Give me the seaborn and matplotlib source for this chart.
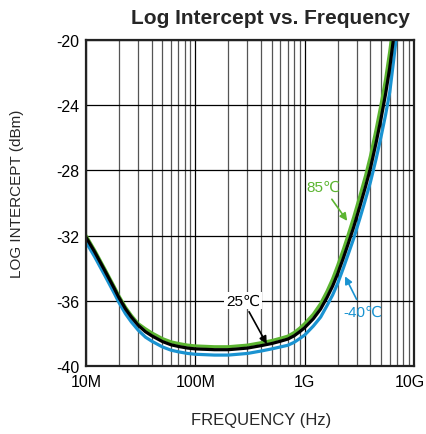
import numpy as np
import pandas as pd
import seaborn as sns
import matplotlib.pyplot as plt
import matplotlib.transforms as mtransforms
from matplotlib.ticker import FixedLocator, LogLocator, NullFormatter

# Données
freq_hz = [10e6, 12e6, 15e6, 18e6, 20e6, 23e6, 26e6, 30e6, 35e6, 40e6, 50e6, 60e6, 70e6,
           85e6, 100e6, 150e6, 200e6, 300e6, 400e6, 500e6, 600e6, 700e6, 800e6, 900e6,
           1e9, 1.2e9, 1.4e9, 1.6e9, 1.8e9, 2e9, 2.25e9, 2.5e9, 2.8e9, 3.2e9, 3.6e9,
           4e9, 4.5e9, 5e9, 5.5e9, 6e9, 6.5e9, 7e9]
temp_25 = [-32.1, -33.0, -34.2, -35.2, -35.8, -36.5, -37.0, -37.5, -37.9, -38.15, -38.5, -38.7, -38.8,
           -38.9, -38.95, -39.0, -39.0, -38.9, -38.75, -38.62, -38.48, -38.35, -38.15, -37.9,
           -37.65, -37.1, -36.5, -35.8, -35.1, -34.35, -33.4, -32.5, -31.5, -30.2, -29.0,
           -27.85, -26.3, -24.8, -23.3, -21.7, -19.9, -18.3]
temp_85 = [-32.0, -32.9, -34.1, -35.1, -35.7, -36.4, -36.9, -37.4, -37.72, -37.97, -38.32, -38.52, -38.62,
           -38.72, -38.77, -38.82, -38.82, -38.72, -38.57, -38.44, -38.3, -38.17, -37.95, -37.68,
           -37.4, -36.82, -36.17, -35.42, -34.66, -33.85, -32.88, -31.95, -30.9, -29.57, -28.34,
           -27.11, -25.5, -23.95, -22.4, -20.7, -18.95, -17.4]
temp_m40 = [-32.4, -33.3, -34.5, -35.5, -36.1, -36.8, -37.3, -37.8, -38.23, -38.48, -38.83, -39.03, -39.13,
            -39.23, -39.28, -39.33, -39.33, -39.23, -39.08, -38.95, -38.83, -38.73, -38.55, -38.32,
            -38.1, -37.55, -37.0, -36.3, -35.65, -34.95, -34.02, -33.15, -32.2, -30.94, -29.78,
            -28.7, -27.3, -25.92, -24.58, -23.2, -21.3, -19.4]

x_ticks = [1e7, 1e8, 1e9, 1e10]
x_tick_labels = ["10M", "100M", "1G", "10G"]
y_ticks = [-40, -36, -32, -28, -24, -20]

GREEN = "#5cb531"
BLUE = "#1a93d1"

df = pd.concat([
    pd.DataFrame({"freq": freq_hz, "val": temp_85, "temp": "85℃"}),
    pd.DataFrame({"freq": freq_hz, "val": temp_m40, "temp": "-40℃"}),
    pd.DataFrame({"freq": freq_hz, "val": temp_25, "temp": "25℃"}),
])

sns.set_style("white")
plt.rcParams["font.family"] = ["Liberation Sans", "DejaVu Sans"]

fig = plt.figure(figsize=(4.27, 4.35), dpi=100)
ax = fig.add_axes([86 / 427, 68 / 435, 328 / 427, 326 / 435])

sns.lineplot(data=df, x="freq", y="val", hue="temp",
             palette={"85℃": GREEN, "-40℃": BLUE, "25℃": "black"},
             linewidth=2.3, legend=False, ax=ax, sort=False)

ax.set_xscale("log")
ax.set_xlim(1e7, 1e10)
ax.set_ylim(-40, -20)
ax.xaxis.set_major_locator(FixedLocator(x_ticks))
ax.set_xticklabels(x_tick_labels)
ax.xaxis.set_minor_locator(LogLocator(base=10, subs=np.arange(2, 10)))
ax.xaxis.set_minor_formatter(NullFormatter())
ax.set_yticks(y_ticks)
ax.set_yticklabels([str(v) for v in y_ticks])
ax.tick_params(which="both", length=0, labelsize=11.5, colors="black")
ax.tick_params(axis="x", pad=6)
ax.tick_params(axis="y", pad=5)

# décaler "10G" pour qu'il ne soit pas coupé au bord
last = ax.get_xticklabels()[-1]
last.set_transform(last.get_transform() + mtransforms.ScaledTranslation(-4 / 100, 0, fig.dpi_scale_trans))

# Grille
ax.grid(which="major", color="black", linewidth=0.9)
ax.grid(which="minor", axis="x", color="#555555", linewidth=0.9)
ax.set_axisbelow(True)
for sp in ax.spines.values():
    sp.set_color("#222222")
    sp.set_linewidth(1.6)

ax.set_xlabel("")
ax.set_ylabel("")
fig.text(261 / 427, 1 - 421 / 435, "FREQUENCY (Hz)", ha="center", va="center", fontsize=12)
fig.text(17 / 427, 1 - 194 / 435, "LOG INTERCEPT (dBm)", ha="center", va="center",
         rotation=90, fontsize=11)
fig.text(270 / 427, 1 - 18 / 435, "Log Intercept vs. Frequency", ha="center", va="center",
         fontsize=15, fontweight="bold")

# Annotations
ax.annotate("85℃", xy=(2.45e9, -31.1), xytext=(1.47e9, -29.0), color=GREEN,
            fontsize=11, ha="center", va="center",
            arrowprops=dict(arrowstyle="-|>", color=GREEN, lw=1.2, shrinkA=2, shrinkB=0))
ax.annotate("-40℃", xy=(2.34e9, -34.5), xytext=(3.42e9, -36.7), color=BLUE,
            fontsize=11, ha="center", va="center",
            arrowprops=dict(arrowstyle="-|>", color=BLUE, lw=1.2, shrinkA=2, shrinkB=0))
ax.annotate("25℃", xy=(4.5e8, -38.65), xytext=(2.73e8, -36.0), color="black",
            fontsize=11, ha="center", va="center",
            bbox=dict(boxstyle="square,pad=0.1", fc="white", ec="none"),
            arrowprops=dict(arrowstyle="-|>", color="black", lw=1.2, shrinkA=2, shrinkB=0))

plt.savefig("out.png", dpi=100)
